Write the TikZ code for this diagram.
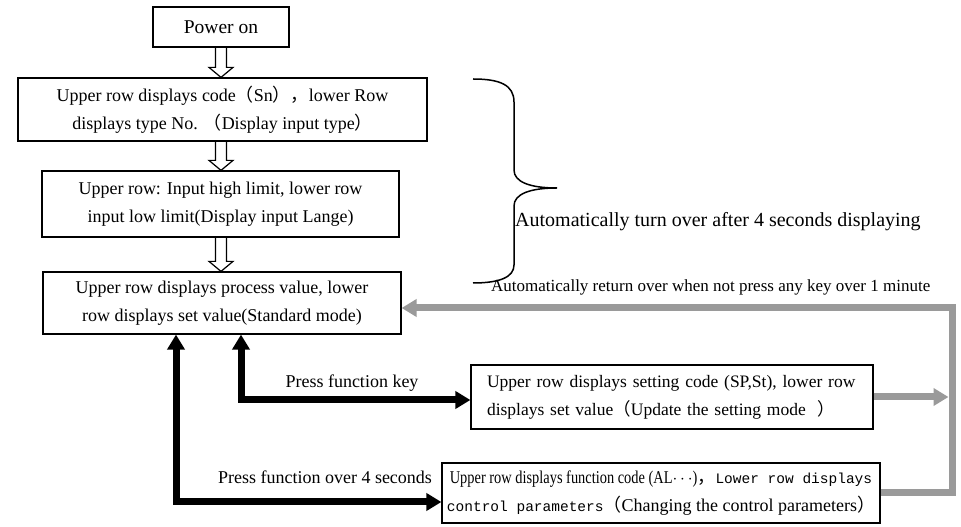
\documentclass[tikz,border=0pt]{standalone}
\usepackage{fontspec}
\setmainfont{Liberation Serif}
\setmonofont{Liberation Mono}
\newfontfamily\cjk{Noto Sans CJK SC}
\newfontfamily\narrowserif[FakeStretch=0.8]{Liberation Serif}
\usetikzlibrary{arrows.meta,positioning,calc}
\definecolor{cGray}{HTML}{9A9A9A}
\newcommand{\wlp}{{\cjk （}}
\newcommand{\wrp}{{\cjk ）}}
\newcommand{\wcm}{{\cjk ，}}

\begin{document}
\begin{tikzpicture}[x=1pt,y=1pt,
  box/.style={draw,line width=1.2pt,inner sep=0pt,align=center,font=\fontsize{18}{28}\selectfont},
  lbl/.style={inner sep=0pt,font=\fontsize{18}{22}\selectfont},
  hollow/.style={draw,line width=1.2pt},
  blk/.style={line width=7pt,{Triangle[length=15pt,width=17pt]}-{Triangle[length=15pt,width=17pt]}},
  gry/.style={cGray,line width=7pt,-{Triangle[length=15pt,width=17pt]}}]
  \useasboundingbox (0,0) rectangle (961,527);
  % main column
  \node[box,minimum width=136pt,minimum height=40pt,font=\fontsize{19.5}{24}\selectfont] (pwr) at (221,500) {Power on};
  \node[box,minimum width=409pt,minimum height=63pt] (code) at (222.5,417.5)
    {Upper row displays code\wlp Sn\wrp\wcm lower Row\\displays type No. \wlp Display input type\wrp};
  \node[box,minimum width=357pt,minimum height=66pt] (range) at (220.5,323)
    {Upper row: Input high limit, lower row\\input low limit(Display input Lange)};
  \node[box,minimum width=358pt,minimum height=62pt] (std) at (222,224)
    {Upper row displays process value, lower\\row displays set value(Standard mode)};
  % hollow arrows
  \foreach \a/\b in {pwr/code,code/range,range/std}{
    \path (\b.north -| pwr.south) coordinate (tip) (\a.south -| pwr.south) coordinate (tail);
    \draw[hollow] ($(tail)+(-5.5,0)$) -- ($(tip)+(-5.5,10)$) -- ($(tip)+(-12,10)$) -- (tip)
      -- ($(tip)+(12,10)$) -- ($(tip)+(5.5,10)$) -- ($(tail)+(5.5,0)$);}
  % brace
  \draw[line width=1.5pt] (473,448) .. controls (500,448) and (514,442) .. (514,425) -- (514,357)
    .. controls (514,345) and (530,339) .. (557,339) .. controls (530,339) and (514,333) .. (514,321)
    -- (514,262) .. controls (514,250) and (500,244) .. (473,244);
  \node[lbl,anchor=west,font=\fontsize{20}{24}\selectfont] (turn) at (515,305) {Automatically turn over after 4 seconds displaying};
  \node[lbl,anchor=west,font=\fontsize{17}{20}\selectfont] (ret) at (491,240) {Automatically return over when not press any key over 1 minute};
  % setting boxes
  \node[box,minimum width=402pt,minimum height=64pt,text width=370pt,align=left,font=\fontsize{17.5}{28}\selectfont] (sett) at (672,130)
    {Upper row displays setting code (SP,St), lower row\\displays set value\wlp Update the setting mode\ \ \wrp};
  \node[box,minimum width=438pt,minimum height=60pt] (func) at (661,34)
    {{\narrowserif Upper row displays function code (AL$\cdots$)}\wcm{\ttfamily\fontsize{14.5}{28}\selectfont Lower row displays}\\
     {\ttfamily\fontsize{14.5}{28}\selectfont control parameters}\wlp Changing the control parameters\wrp};
  % return path
  \coordinate (rt) at (952,219);
  \draw[gry] (func.east) -| (rt) -- (std.east |- rt);
  \draw[gry] (sett.east) -- ($(sett.east -| rt)+(-3.5,0)$);
  % key presses
  \coordinate (l1) at (176,25);
  \coordinate (l2) at (241,127);
  \draw[blk] (std.south -| l1) -- (l1) -- (func.west |- l1);
  \draw[blk] (std.south -| l2) -- (l2) -- (sett.west |- l2);
  \node[lbl] (fkey) at (352,144) {Press function key};
  \node[lbl] (flong) at (325,50) {Press function over 4 seconds};
\end{tikzpicture}
\end{document}
